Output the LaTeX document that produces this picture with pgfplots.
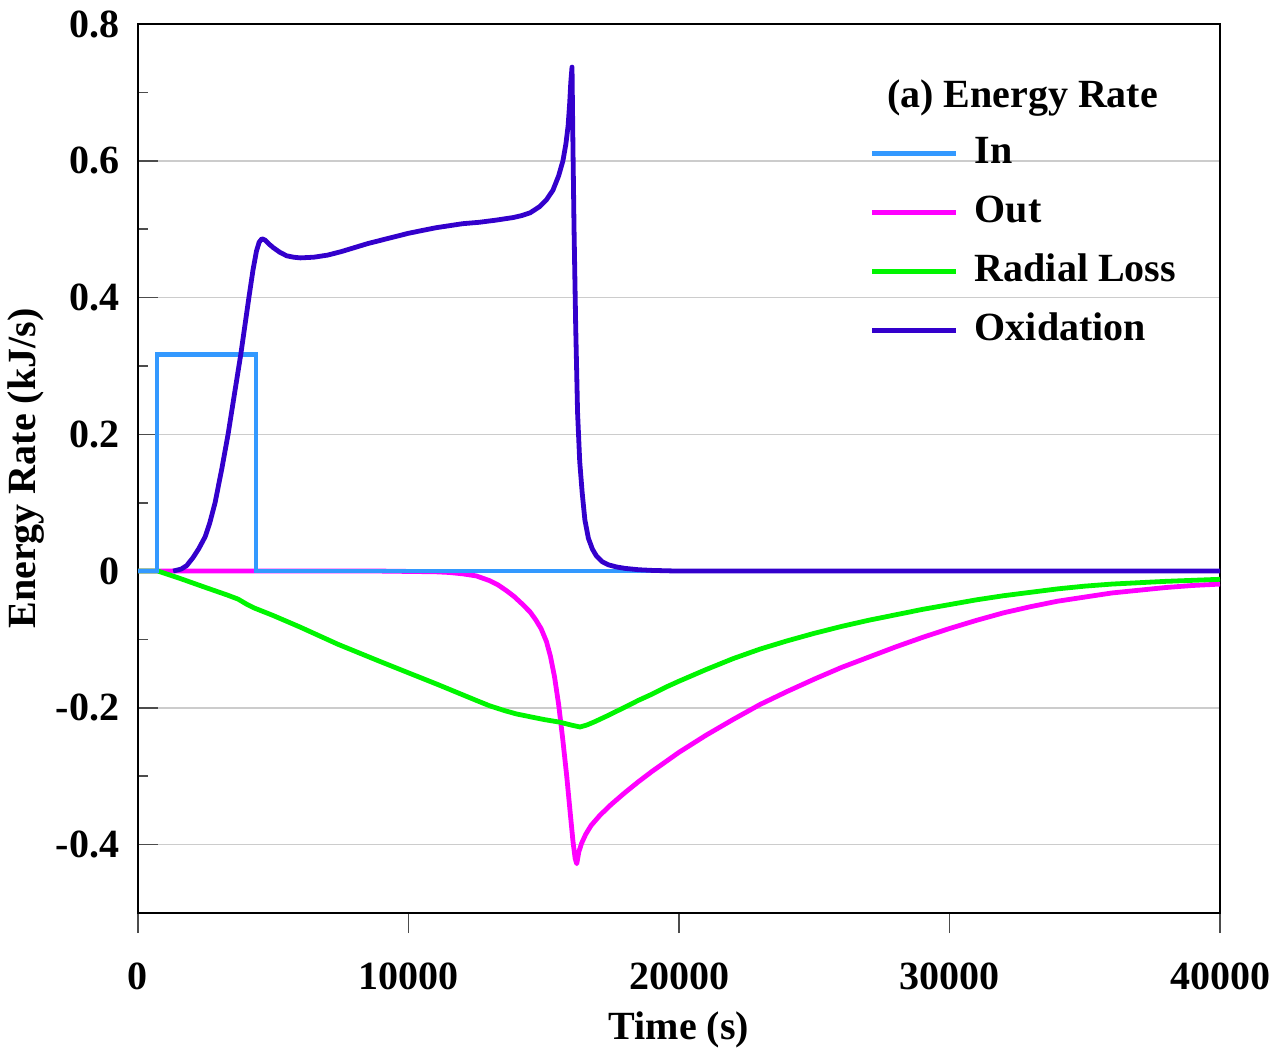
\documentclass[border=0pt]{standalone}
\usepackage{fontspec}
\setmainfont{Liberation Serif}
\usepackage{pgfplots}
\pgfplotsset{compat=1.18}
\definecolor{cin}{RGB}{51,153,255}
\definecolor{cout}{RGB}{255,0,255}
\definecolor{crad}{RGB}{0,245,0}
\definecolor{cox}{RGB}{51,0,204}
\begin{document}
\begin{tikzpicture}
\begin{axis}[
 name=ax,
 scale only axis, width=270.5pt, height=222.25pt,
 xmin=0, xmax=40000, ymin=-0.5, ymax=0.8,
 scaled x ticks=false, scaled y ticks=false,
 xtick={0,10000,20000,30000,40000}, xticklabels={0,10000,20000,30000,40000},
 ytick={-0.4,-0.2,0,0.2,0.4,0.6,0.8}, yticklabels={-0.4,-0.2,0,0.2,0.4,0.6,0.8},
 minor ytick={-0.5,-0.3,-0.1,0.1,0.3,0.5,0.7},
 xtick pos=bottom, ytick pos=left,
 xtick align=outside, ytick align=inside,
 major tick length=5pt, minor tick length=2.5pt,
 xtick style={draw=black!70, line width=0.4pt},
 ytick style={draw=black!70, line width=0.4pt},
 ymajorgrids, major grid style={draw=black!20, line width=0.4pt},
 axis line style={line width=0.7pt},
 tick label style={font=\bfseries},
 xticklabel style={yshift=-4pt},
 yticklabel style={xshift=-1.2pt},
 xlabel={Time (s)}, ylabel={Energy Rate (kJ/s)},
 label style={font=\bfseries},
 xlabel style={at={(axis description cs:0.5,-0.1316)}, anchor=center},
 ylabel style={at={(axis description cs:-0.1035,0.5)}, anchor=center},
 clip mode=individual,
 legend style={draw=none, fill=none, at={(rel axis cs:0.6765,0.875)}, anchor=north west,
   inner sep=0pt, outer sep=0pt, row sep=5.75pt, column sep=4pt, font=\bfseries,
   nodes={inner sep=0pt, text height=7pt, text depth=2pt}},
 legend cell align=left,
 legend image code/.code={\draw[#1] (0pt,0pt) -- (21pt,0pt);},
]
\addlegendimage{cin, line width=1.2pt}\addlegendentry{In}
\addlegendimage{cout, line width=1.2pt}\addlegendentry{Out}
\addlegendimage{crad, line width=1.2pt}\addlegendentry{Radial Loss}
\addlegendimage{cox, line width=1.2pt}\addlegendentry{Oxidation}

\addplot[cout, line width=1.2pt, line join=round, forget plot] coordinates {
(0,0) (9000,0) (10000,-0.0005) (11000,-0.001) (11500,-0.002) (12000,-0.004)
(12500,-0.007) (13000,-0.014) (13300,-0.020) (13600,-0.028) (13900,-0.037)
(14200,-0.048) (14500,-0.060) (14700,-0.071) (14900,-0.084) (15100,-0.103)
(15250,-0.125) (15400,-0.155) (15550,-0.195) (15700,-0.245) (15850,-0.30)
(15970,-0.35) (16080,-0.395) (16160,-0.42) (16220,-0.428) (16300,-0.41)
(16400,-0.398) (16550,-0.385) (16750,-0.372) (17080,-0.357) (17500,-0.341)
(18000,-0.324) (18500,-0.308) (19000,-0.293) (19500,-0.279) (20000,-0.265)
(21000,-0.240) (22000,-0.217) (23000,-0.195) (24000,-0.176) (25000,-0.158)
(26000,-0.141) (27000,-0.126) (28000,-0.111) (29000,-0.097) (30000,-0.084)
(31000,-0.072) (32000,-0.061) (33000,-0.052) (34000,-0.044) (35000,-0.038)
(36000,-0.032) (37000,-0.028) (38000,-0.024) (39000,-0.021) (40000,-0.019)};

\addplot[crad, line width=1.2pt, line join=round, forget plot] coordinates {
(0,0) (740,0) (1500,-0.010) (2500,-0.024) (3300,-0.035) (3700,-0.041)
(4000,-0.048) (4300,-0.054) (5000,-0.065) (6000,-0.082) (7390,-0.107)
(9000,-0.133) (11090,-0.166) (12500,-0.189) (13000,-0.197) (13550,-0.204)
(14000,-0.209) (14500,-0.213) (15000,-0.217) (15600,-0.221) (16000,-0.225)
(16340,-0.228) (16600,-0.225) (16900,-0.220) (17330,-0.212) (18000,-0.199)
(18500,-0.189) (19000,-0.180) (19500,-0.170) (20000,-0.161) (21000,-0.144)
(22000,-0.128) (23000,-0.114) (24000,-0.102) (25000,-0.091) (26000,-0.081)
(27000,-0.072) (28000,-0.064) (29000,-0.056) (30000,-0.049) (31000,-0.042)
(32000,-0.036) (33000,-0.031) (34000,-0.026) (35000,-0.022) (36000,-0.019)
(37000,-0.017) (38000,-0.015) (39000,-0.0135) (40000,-0.012)};

\addplot[cin, line width=1.2pt, forget plot] coordinates {
(0,0) (700,0) (700,0.317) (4360,0.317) (4360,0) (40000,0)};

\addplot[cox, line width=1.2pt, line join=round, forget plot] coordinates {
(1300,0) (1600,0.003) (1800,0.008) (2040,0.02) (2250,0.033) (2480,0.05)
(2650,0.07) (2850,0.1) (3100,0.15) (3330,0.2) (3550,0.255) (3800,0.317)
(4100,0.4) (4250,0.44) (4380,0.468) (4480,0.481) (4580,0.486) (4700,0.484)
(4850,0.478) (5000,0.473) (5250,0.466) (5500,0.461) (5750,0.459) (6000,0.458)
(6500,0.459) (7000,0.462) (7500,0.467) (8000,0.473) (8500,0.479) (9000,0.484)
(9500,0.489) (10000,0.494) (10500,0.498) (11000,0.502) (11500,0.505)
(12000,0.508) (12600,0.510) (13200,0.513) (13870,0.517) (14200,0.520)
(14500,0.524) (14850,0.533) (15100,0.543) (15340,0.557) (15550,0.578)
(15710,0.600) (15820,0.625) (15900,0.651) (15960,0.685) (16000,0.715)
(16045,0.737) (16080,0.62) (16120,0.5) (16180,0.36) (16250,0.232)
(16330,0.16) (16420,0.115) (16520,0.075) (16650,0.048) (16800,0.032)
(16950,0.022) (17150,0.014) (17400,0.009) (17700,0.006) (18000,0.004)
(18500,0.002) (19000,0.001) (20000,0) (40000,0)};

\node[font=\bfseries, anchor=base, inner sep=0pt] at (rel axis cs:0.8175,0.9066) {(a) Energy Rate};
\end{axis}
\pgfresetboundingbox
\path (ax.south west) ++(-34.5pt,-34.5pt) rectangle ++(318pt,262.75pt);
\end{tikzpicture}
\end{document}
